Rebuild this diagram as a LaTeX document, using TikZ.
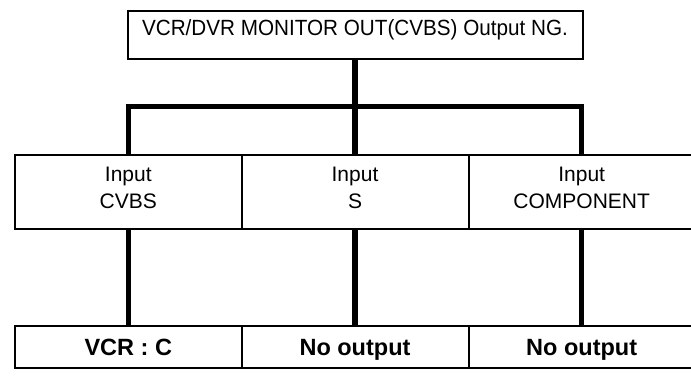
\documentclass[tikz,border=0pt]{standalone}
\usepackage{fontspec}
\setmainfont{Liberation Sans}
\newfontfamily\narrowsans[FakeStretch=0.94]{Liberation Sans}
\begin{document}
\begin{tikzpicture}[x=1pt,y=-1pt,
  box/.style={draw,line width=1.6pt,inner sep=0pt,anchor=north west},
  conn/.style={line width=5.5pt},
  toptext/.style={font=\narrowsans\fontsize{22}{24}\selectfont},
  midtext/.style={font=\fontsize{21}{27}\selectfont,align=center,inner sep=0pt},
  bottext/.style={font=\bfseries\fontsize{23.5}{26}\selectfont,inner sep=0pt}]
\useasboundingbox (0,0) rectangle (691,377);
\clip (0,0) rectangle (691,377);
% top box
\node[box,minimum width=455pt,minimum height=48.5pt] (top) at (127,10) {};
\node[toptext] (toptxt) at (355,30) {VCR/DVR MONITOR OUT(CVBS) Output NG.};
% x positions of the branches
\coordinate (xa) at (128.3,0);
\coordinate (xb) at (355,0);
\coordinate (xc) at (581.7,0);
% middle row
\node[box,minimum width=227pt,minimum height=73.5pt] (m1) at (14,154.5) {};
\node[box,minimum width=227pt,minimum height=73.5pt] (m2) at (241,154.5) {};
\node[box,minimum width=227pt,minimum height=73.5pt] (m3) at (468,154.5) {};
\node[midtext] (t1) at (xa |- 0,188) {Input\\CVBS};
\node[midtext] (t2) at (xb |- 0,188) {Input\\S};
\node[midtext] (t3) at (xc |- 0,188) {Input\\COMPONENT};
% bottom row
\node[box,minimum width=227pt,minimum height=42pt] (b1) at (14,325) {};
\node[box,minimum width=227pt,minimum height=42pt] (b2) at (241,325) {};
\node[box,minimum width=227pt,minimum height=42pt] (b3) at (468,325) {};
\node[bottext,anchor=base] (u1) at (xa |- 0,355) {VCR : C};
\node[bottext,anchor=base] (u2) at (xb |- 0,355) {No output};
\node[bottext,anchor=base] (u3) at (xc |- 0,355) {No output};
% connectors
\coordinate (bar) at (355,106.5);
\draw[conn] (top.south -| bar) -- (bar);
\draw[conn] ([xshift=-2.75pt]xa |- bar) -- ([xshift=2.75pt]xc |- bar);
\draw[conn] (xa |- bar) -- (xa |- m1.north);
\draw[conn] (bar) -- (xb |- m1.north);
\draw[conn] (xc |- bar) -- (xc |- m1.north);
\draw[conn] (xa |- m1.south) -- (xa |- b1.north);
\draw[conn] (xb |- m1.south) -- (xb |- b1.north);
\draw[conn] (xc |- m1.south) -- (xc |- b1.north);
\end{tikzpicture}
\end{document}
